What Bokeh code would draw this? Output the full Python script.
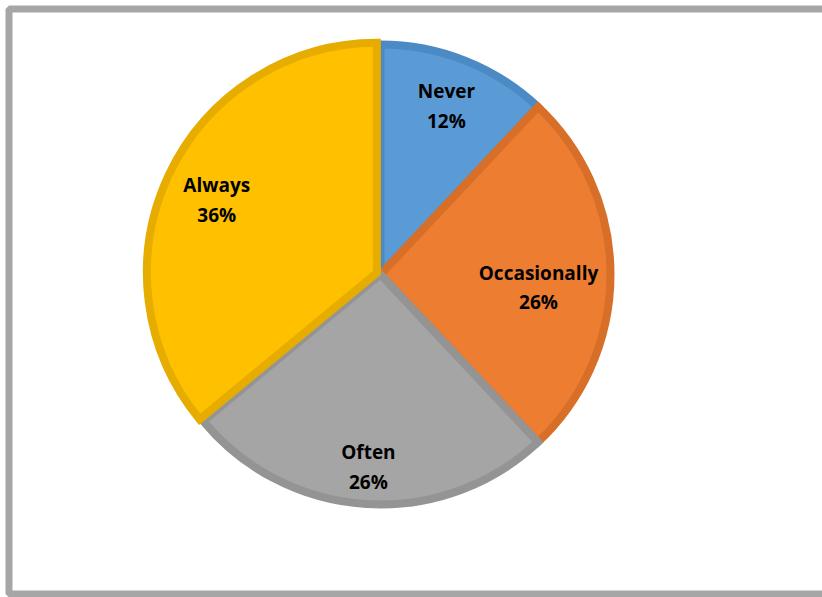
import math
from bokeh.plotting import figure
from bokeh.models import Range1d, ColumnDataSource, BoxAnnotation
from bokeh.core.properties import value
from bokeh.embed import file_html
from bokeh.resources import INLINE

# ---- data ----
categories = ["Never", "Occasionally", "Often", "Always"]
percents = [12, 26, 26, 36]
fill_colors = ["#5B9BD5", "#ED7D31", "#A5A5A5", "#FFC000"]
edge_colors = ["#4C8AC6", "#D86F28", "#949494", "#E6AC00"]
label_radius = [179, 158, 193, 181]   # label distance from centre (px)
label_shift_down = [-2, 13, 0, 3]     # extra vertical shift of labels (px)
explode = [0, 0, 0, 4]                 # px

W, H = 822, 597
cx, cy = 380, H - 274
R = 230

p = figure(width=W, height=H, output_backend="svg", toolbar_location=None,
           x_range=Range1d(0, W), y_range=Range1d(0, H),
           min_border=0, match_aspect=False)
p.axis.visible = False
p.grid.visible = False
p.outline_line_color = None
p.background_fill_color = "white"
p.border_fill_color = "white"

total = sum(percents)
starts, ends, xs, ys, lx, ly, texts = [], [], [], [], [], [], []
cum = 0.0
for i, v in enumerate(percents):
    a0 = cum / total * 2 * math.pi
    cum += v
    a1 = cum / total * 2 * math.pi
    mid = (a0 + a1) / 2
    # clockwise from 12 o'clock -> bokeh angle
    starts.append(math.pi / 2 - a0)
    ends.append(math.pi / 2 - a1)
    xs.append(cx + explode[i] * math.sin(mid))
    ys.append(cy + explode[i] * math.cos(mid))
    lx.append(cx + label_radius[i] * math.sin(mid))
    ly.append(cy + label_radius[i] * math.cos(mid) - label_shift_down[i])
    texts.append(f"{categories[i]}\n{percents[i]}%")

src = ColumnDataSource(dict(x=xs, y=ys, start=starts, end=ends,
                            fill=fill_colors, edge=edge_colors,
                            lx=lx, ly=ly, text=texts))

p.wedge(x="x", y="y", radius=R, start_angle="start", end_angle="end",
        direction="clock", fill_color="fill", line_color="edge",
        line_width=8, line_join="miter", source=src)

p.text(x="lx", y="ly", text="text", source=src,
       text_font=value("Open Sans"), text_font_style="bold",
       text_font_size="19px", text_color="black",
       text_align="center", text_baseline="middle", text_line_height=1.15)

frame = BoxAnnotation(left=8.5, right=W + 20, top=H - 8.5, bottom=3.5,
                      fill_alpha=0, line_color="#A6A6A6", line_alpha=1.0,
                      line_width=7)
p.add_layout(frame)

open("out.html", "w").write(file_html(p, INLINE))
